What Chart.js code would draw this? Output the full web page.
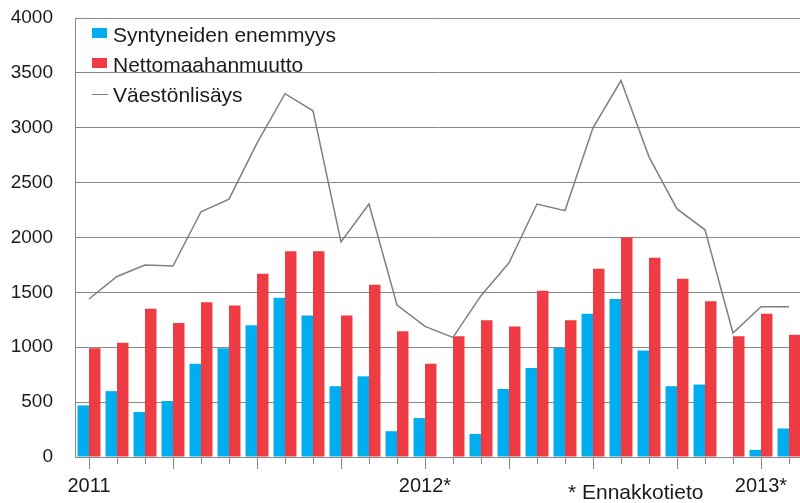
<!DOCTYPE html>
<html lang="fi">
  <head>
    <meta charset="UTF-8" />
    <title>Väestönlisäys</title>
    <script src="https://cdn.jsdelivr.net/npm/chart.js"></script>
    <style>
      body {
        margin: 0;
        background: #fff;
        overflow: hidden;
      }
      .wrap {
        position: relative;
        width: 806px;
        height: 503px;
      }
      .legend {
        position: absolute;
        left: 92px;
        top: 20px;
        font-family: "Liberation Sans", Arial, sans-serif;
        font-size: 21px;
        color: #1a1a1a;
      }
      .legend .row {
        display: flex;
        align-items: center;
        height: 30px;
        line-height: 30px;
      }
      .legend .sw {
        width: 15px;
        height: 10px;
        margin-right: 6px;
        margin-bottom: 4px;
      }
      .legend .ln {
        width: 16px;
        height: 0;
        border-top: 1.5px solid #808080;
        margin-right: 5px;
        margin-bottom: 2px;
      }
      .note {
        position: absolute;
        left: 568px;
        top: 481px;
        font-family: "Liberation Sans", Arial, sans-serif;
        font-size: 21px;
        line-height: 21px;
        color: #1a1a1a;
      }
    </style>
  </head>
  <body>
    <div class="wrap">
      <canvas id="chart" width="806" height="503"></canvas>
      <div class="legend" id="legend"></div>
      <div class="note">* Ennakkotieto</div>
    </div>

    <script>
      // months Jan 2011 .. Feb 2013
      const months = [
        "2011-01", "2011-02", "2011-03", "2011-04", "2011-05", "2011-06",
        "2011-07", "2011-08", "2011-09", "2011-10", "2011-11", "2011-12",
        "2012-01", "2012-02", "2012-03", "2012-04", "2012-05", "2012-06",
        "2012-07", "2012-08", "2012-09", "2012-10", "2012-11", "2012-12",
        "2013-01", "2013-02",
      ];
      const yearLabels = ["2011", "2012*", "2013*"];

      const syntyneidenEnemmyys = [
        470, 600, 410, 510, 850, 990, 1200, 1450, 1290, 645, 735, 235,
        355, 0, 210, 620, 810, 995, 1305, 1440, 970, 645, 660, 0,
        65, 260,
      ];
      const nettomaahanmuutto = [
        990, 1040, 1350, 1220, 1410, 1380, 1670, 1875, 1875, 1290, 1570, 1145,
        850, 1100, 1245, 1190, 1515, 1245, 1715, 2000, 1815, 1625, 1420, 1100,
        1305, 1115,
      ];
      const vaestonlisays = [
        1440, 1645, 1750, 1740, 2235, 2350, 2860, 3310, 3155, 1960, 2305, 1385,
        1190, 1090, 1470, 1770, 2305, 2245, 3000, 3430, 2735, 2260, 2070, 1130,
        1370, 1370,
      ];

      const gridColor = "#888888";
      const textColor = "#1a1a1a";

      // short tick every month, long tick every quarter
      const monthTicks = {
        id: "monthTicks",
        afterDraw(chart) {
          const xs = chart.scales.x;
          const ctx = chart.ctx;
          const y0 = chart.chartArea.bottom;
          ctx.save();
          ctx.strokeStyle = gridColor;
          ctx.lineWidth = 1;
          xs.ticks.forEach((t, i) => {
            const px = Math.round(xs.getPixelForTick(i)) + 0.5;
            ctx.beginPath();
            ctx.moveTo(px, y0);
            ctx.lineTo(px, y0 + (i % 3 === 0 ? 12 : 7));
            ctx.stroke();
          });
          ctx.restore();
        },
      };

      const chart = new Chart(document.getElementById("chart"), {
        type: "bar",
        data: {
          labels: months,
          datasets: [
            {
              label: "Syntyneiden enemmyys",
              data: syntyneidenEnemmyys,
              backgroundColor: "#00aeef",
              categoryPercentage: 0.82,
              barPercentage: 1,
            },
            {
              label: "Nettomaahanmuutto",
              data: nettomaahanmuutto,
              backgroundColor: "#ef3b44",
              categoryPercentage: 0.82,
              barPercentage: 1,
            },
            {
              type: "line",
              label: "Väestönlisäys",
              data: vaestonlisays,
              borderColor: "#808080",
              borderWidth: 1.5,
              pointRadius: 0,
              tension: 0,
              order: -1,
            },
          ],
        },
        options: {
          responsive: false,
          animation: false,
          layout: { padding: { top: 18, left: 0, right: 0, bottom: 0 } },
          plugins: {
            legend: { display: false },
            tooltip: { enabled: false },
          },
          scales: {
            x: {
              grid: { display: false, drawTicks: false },
              border: { display: true, color: gridColor, width: 1 },
              ticks: {
                autoSkip: false,
                maxRotation: 0,
                minRotation: 0,
                padding: 17,
                color: textColor,
                font: { family: "'Liberation Sans', Arial, sans-serif", size: 20 },
                callback: (v, i) => (i % 12 === 0 ? yearLabels[i / 12] : ""),
              },
              afterFit: (s) => {
                s.height = 46;
              },
            },
            y: {
              min: 0,
              max: 4000,
              grid: { color: gridColor, drawTicks: false },
              border: { display: true, color: gridColor, width: 1 },
              ticks: {
                stepSize: 500,
                padding: 22,
                color: textColor,
                font: { family: "'Liberation Sans', Arial, sans-serif", size: 19 },
                callback: (v) => String(v),
              },
              afterFit: (s) => {
                s.width = 75;
                s.paddingTop = 0;
                s.paddingBottom = 0;
              },
            },
          },
        },
        plugins: [monthTicks],
      });

      // legend built from the datasets
      const legendEl = document.getElementById("legend");
      legendEl.innerHTML = chart.data.datasets
        .map((ds) => {
          const mark =
            ds.type === "line"
              ? `<span class="ln"></span>`
              : `<span class="sw" style="background:${ds.backgroundColor}"></span>`;
          return `<div class="row">${mark}<span>${ds.label}</span></div>`;
        })
        .join("");
    </script>
  </body>
</html>
